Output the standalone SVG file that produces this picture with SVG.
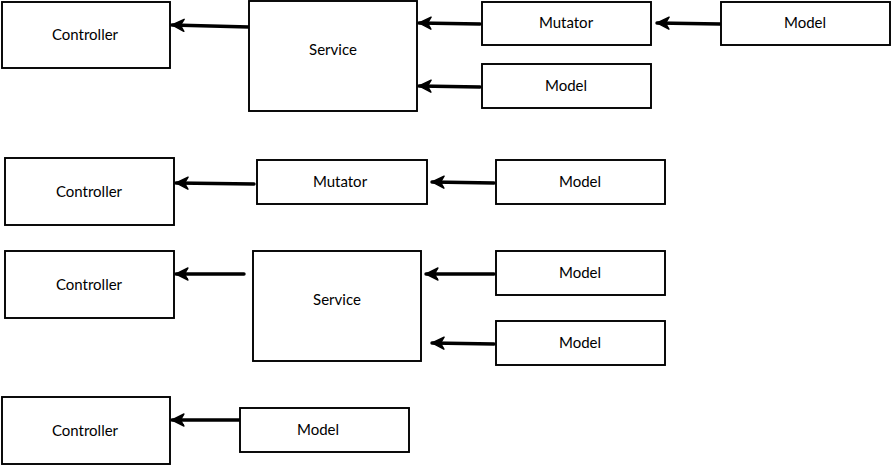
<svg xmlns="http://www.w3.org/2000/svg" width="892" height="466" viewBox="0 0 892 466">
<defs>
<style>
.box{fill:#fff;stroke:#000;stroke-width:1.9}
.lbl{font-family:"Lato","Open Sans","Liberation Sans",sans-serif;font-size:15px;fill:#000;text-anchor:middle;dominant-baseline:central}
.c{fill:none;stroke:#000;stroke-width:3.4;stroke-linecap:round}
</style>
<marker id="ah" viewBox="0 0 14 14" refX="13" refY="7" markerWidth="14" markerHeight="14" markerUnits="userSpaceOnUse" orient="auto">
<path d="M13,7 L1,1 L4.5,7 L1,13 Z" fill="#000" stroke="#000" stroke-width="1.4" stroke-linejoin="round"/>
</marker>
</defs>
<rect width="892" height="466" fill="#fff"/>

<g id="connectors">
<path class="c" d="M249,27 L172,25" marker-end="url(#ah)"/>
<path class="c" d="M480,24 L419,23" marker-end="url(#ah)"/>
<path class="c" d="M480,87 L419,86" marker-end="url(#ah)"/>
<path class="c" d="M720,24 L657,23" marker-end="url(#ah)"/>
<path class="c" d="M254,184 L176,183" marker-end="url(#ah)"/>
<path class="c" d="M494,183 L432,182" marker-end="url(#ah)"/>
<path class="c" d="M244,274 L176,274" marker-end="url(#ah)"/>
<path class="c" d="M494,274 L426,274" marker-end="url(#ah)"/>
<path class="c" d="M494,344 L432,343" marker-end="url(#ah)"/>
<path class="c" d="M240,420 L172,420" marker-end="url(#ah)"/>
</g>

<g id="controller1"><rect class="box" x="2" y="2" width="168" height="66"/><text class="lbl" x="85" y="34">Controller</text></g>
<g id="service1"><rect class="box" x="249" y="1" width="168" height="110"/><text class="lbl" x="333" y="49">Service</text></g>
<g id="mutator1"><rect class="box" x="482" y="2" width="169" height="43"/><text class="lbl" x="566" y="22">Mutator</text></g>
<g id="model1"><rect class="box" x="721" y="2" width="169" height="43"/><text class="lbl" x="805" y="22">Model</text></g>
<g id="model2"><rect class="box" x="482" y="64" width="169" height="44"/><text class="lbl" x="566" y="85">Model</text></g>

<g id="controller2"><rect class="box" x="5" y="158" width="169" height="67"/><text class="lbl" x="89" y="191">Controller</text></g>
<g id="mutator2"><rect class="box" x="257" y="160" width="170" height="44"/><text class="lbl" x="340" y="181">Mutator</text></g>
<g id="model3"><rect class="box" x="496" y="160" width="169" height="44"/><text class="lbl" x="580" y="181">Model</text></g>

<g id="controller3"><rect class="box" x="5" y="251" width="169" height="67"/><text class="lbl" x="89" y="284">Controller</text></g>
<g id="service2"><rect class="box" x="253" y="251" width="168" height="110"/><text class="lbl" x="337" y="299">Service</text></g>
<g id="model4"><rect class="box" x="496" y="251" width="169" height="44"/><text class="lbl" x="580" y="272">Model</text></g>
<g id="model5"><rect class="box" x="496" y="321" width="169" height="44"/><text class="lbl" x="580" y="342">Model</text></g>

<g id="controller4"><rect class="box" x="2" y="397" width="168" height="67"/><text class="lbl" x="85" y="430">Controller</text></g>
<g id="model6"><rect class="box" x="240" y="408" width="169" height="44"/><text class="lbl" x="318" y="429">Model</text></g>
</svg>
